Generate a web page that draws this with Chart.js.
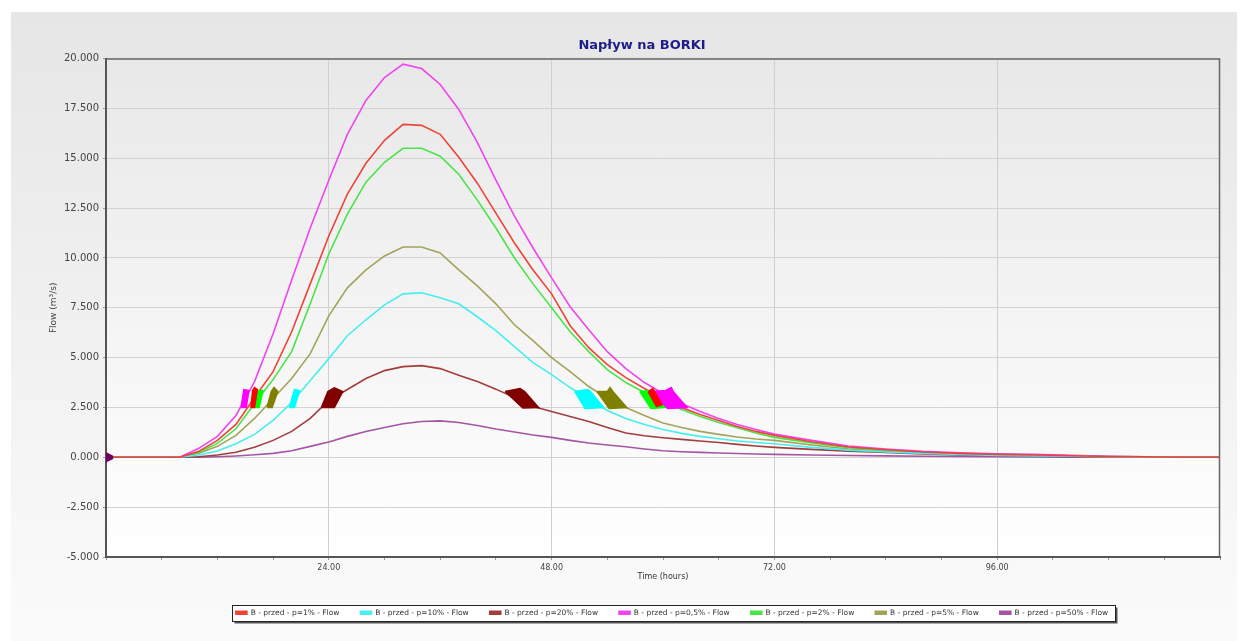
<!DOCTYPE html>
<html>
<head>
<meta charset="utf-8">
<title>Napływ na BORKI</title>
<script src="https://cdn.jsdelivr.net/npm/chart.js@4.4.1/dist/chart.umd.min.js"></script>
<style>
  html, body { margin: 0; padding: 0; background: #ffffff; }
  #contenedor { width: 1247px; height: 641px; }
</style>
</head>
<body>
<div id="contenedor"><canvas id="grafica" width="1247" height="641"></canvas></div>
<script>
// Eje X (horas) y series
const horas = [0, 2, 4, 6, 8, 10, 12, 14, 16, 18, 20, 22, 24, 26, 28, 30, 32, 34, 36, 38, 40, 42, 44, 46, 48, 50, 52, 54, 56, 58, 60, 62, 64, 66, 68, 70, 72, 76, 80, 84, 88, 92, 96, 100, 104, 108, 112, 116, 120];

const serieP1 = [0, 0, 0, 0, 0.01, 0.3, 0.85, 1.65, 3.0, 4.3, 6.3, 8.7, 11.1, 13.2, 14.75, 15.9, 16.7, 16.65, 16.2, 15.05, 13.75, 12.25, 10.75, 9.4, 8.2, 6.6, 5.5, 4.65, 4.0, 3.45, 2.95, 2.5, 2.15, 1.85, 1.55, 1.3, 1.1, 0.78, 0.52, 0.38, 0.27, 0.2, 0.15, 0.12, 0.08, 0.04, 0.02, 0, 0];
const serieP10 = [0, 0, 0, 0, 0, 0.12, 0.32, 0.68, 1.15, 1.85, 2.75, 3.85, 4.95, 6.1, 6.9, 7.65, 8.2, 8.25, 8.0, 7.7, 7.05, 6.35, 5.55, 4.75, 4.15, 3.5, 2.9, 2.35, 1.95, 1.65, 1.4, 1.2, 1.05, 0.93, 0.82, 0.74, 0.68, 0.5, 0.36, 0.27, 0.2, 0.14, 0.1, 0.07, 0.05, 0.03, 0.01, 0, 0];
const serieP20 = [0, 0, 0, 0, 0, 0.03, 0.12, 0.25, 0.5, 0.85, 1.3, 1.95, 2.85, 3.4, 3.95, 4.35, 4.55, 4.6, 4.45, 4.12, 3.8, 3.42, 3.0, 2.55, 2.3, 2.05, 1.8, 1.5, 1.22, 1.08, 0.98, 0.9, 0.82, 0.74, 0.65, 0.57, 0.5, 0.4, 0.31, 0.24, 0.17, 0.12, 0.09, 0.06, 0.04, 0.02, 0.01, 0, 0];
const serieP05 = [0, 0, 0, 0, 0.02, 0.45, 1.05, 2.1, 3.8, 6.2, 8.9, 11.5, 13.9, 16.2, 17.9, 19.05, 19.72, 19.5, 18.7, 17.45, 15.8, 13.9, 12.1, 10.5, 9.0, 7.55, 6.4, 5.3, 4.45, 3.75, 3.2, 2.7, 2.3, 1.95, 1.65, 1.4, 1.17, 0.85, 0.57, 0.42, 0.3, 0.23, 0.18, 0.15, 0.1, 0.05, 0.02, 0, 0];
const serieP2 = [0, 0, 0, 0, 0.01, 0.25, 0.7, 1.43, 2.7, 3.9, 5.3, 7.7, 10.2, 12.2, 13.8, 14.8, 15.5, 15.5, 15.1, 14.2, 12.9, 11.5, 10.0, 8.7, 7.5, 6.3, 5.3, 4.4, 3.75, 3.25, 2.8, 2.4, 2.05, 1.75, 1.48, 1.22, 1.0, 0.72, 0.48, 0.35, 0.25, 0.18, 0.14, 0.1, 0.07, 0.04, 0.02, 0, 0];
const serieP5 = [0, 0, 0, 0, 0.01, 0.2, 0.55, 1.1, 1.95, 2.95, 3.95, 5.2, 7.1, 8.5, 9.4, 10.1, 10.55, 10.55, 10.25, 9.4, 8.6, 7.7, 6.65, 5.85, 5.0, 4.3, 3.55, 2.95, 2.5, 2.1, 1.72, 1.5, 1.3, 1.15, 1.02, 0.92, 0.85, 0.62, 0.42, 0.3, 0.22, 0.16, 0.12, 0.09, 0.06, 0.03, 0.01, 0, 0];
const serieP50 = [0, 0, 0, 0, 0, 0.01, 0.03, 0.07, 0.13, 0.2, 0.33, 0.55, 0.77, 1.05, 1.3, 1.5, 1.68, 1.8, 1.83, 1.75, 1.6, 1.42, 1.27, 1.12, 1.0, 0.85, 0.72, 0.62, 0.53, 0.42, 0.33, 0.28, 0.25, 0.22, 0.19, 0.17, 0.15, 0.12, 0.09, 0.07, 0.05, 0.04, 0.03, 0.02, 0.01, 0, 0, 0, 0];

const nombresSeries = ['B - przed - p=1% - Flow', 'B - przed - p=10% - Flow', 'B - przed - p=20% - Flow', 'B - przed - p=0,5% - Flow', 'B - przed - p=2% - Flow', 'B - przed - p=5% - Flow', 'B - przed - p=50% - Flow'];
const series = [serieP1, serieP10, serieP20, serieP05, serieP2, serieP5, serieP50];
const coloresLinea = ['#ee4438', '#48eeee', '#a33c3c', '#f044f0', '#48e448', '#a3a35a', '#a456a4'];
const coloresMancha = ['#ff0000', '#00ffff', '#800000', '#ff00ff', '#00ff00', '#808000', '#700060'];

// Manchas (zonas densas) alrededor de 2.5-3.3, vértices [hora, caudal]
const manchasP1 = [
    [[15.6, 2.5], [16.0, 2.5], [16.3, 3.4], [16.0, 3.5], [15.8, 3.35], [15.6, 2.5]],
    [[58.4, 3.3], [58.9, 3.45], [59.9, 2.65], [59.3, 2.55], [58.4, 3.3]]
];
const manchasP10 = [
    [[19.75, 2.5], [20.3, 2.5], [20.85, 3.35], [20.3, 3.4], [19.75, 2.5]],
    [[50.5, 3.3], [51.9, 3.4], [52.2, 3.3], [53.6, 2.5], [51.6, 2.45], [50.5, 3.3]]
];
const manchasP20 = [
    [[23.2, 2.5], [24.6, 2.5], [25.5, 3.3], [24.6, 3.48], [23.9, 3.3], [23.2, 2.5]],
    [[43.0, 3.3], [44.6, 3.45], [45.1, 3.3], [46.6, 2.5], [44.9, 2.47], [43.0, 3.3]]
];
const manchasP05 = [
    [[14.55, 2.5], [15.1, 2.5], [15.4, 3.35], [14.85, 3.4], [14.55, 2.5]],
    [[58.8, 3.3], [60.3, 3.35], [60.9, 3.5], [61.1, 3.3], [62.6, 2.5], [60.5, 2.45], [58.8, 3.3]]
];
const manchasP2 = [
    [[15.95, 2.5], [16.5, 2.5], [16.9, 3.35], [16.3, 3.35], [15.95, 2.5]],
    [[57.5, 3.3], [58.5, 3.35], [60.3, 2.5], [58.7, 2.45], [57.5, 3.3]]
];
const manchasP5 = [
    [[17.35, 2.5], [17.9, 2.5], [18.5, 3.3], [18.1, 3.5], [17.8, 3.3], [17.35, 2.5]],
    [[52.9, 3.3], [54.0, 3.3], [54.3, 3.5], [54.6, 3.3], [56.1, 2.5], [54.2, 2.45], [52.9, 3.3]]
];
const manchasP50 = [
    [[0, 0.22], [0.7, 0.06], [0.7, -0.06], [0, -0.22], [0, 0.22]]
];
const manchas = [manchasP1, manchasP10, manchasP20, manchasP05, manchasP2, manchasP5, manchasP50];

const ticksY = { min: -5, max: 20, paso: 2.5 };
const ticksX = { min: 0, max: 120, paso: 6, etiqueta: 24 };

Chart.defaults.font.family = "'DejaVu Sans', Verdana, sans-serif";

let datasets = [];
series.forEach((valores, i) => {
    datasets.push({
        label: nombresSeries[i],
        data: horas.map((h, k) => ({ x: h, y: valores[k] })),
        borderColor: coloresLinea[i],
        backgroundColor: coloresLinea[i],
        borderWidth: 1.6,
        pointRadius: 0,
        fill: false,
        tension: 0
    });
});
manchas.forEach((lista, i) => {
    lista.forEach((poligono) => {
        datasets.push({
            label: '',
            esMancha: true,
            data: poligono.map((p) => ({ x: p[0], y: p[1] })),
            borderColor: coloresMancha[i],
            backgroundColor: coloresMancha[i],
            borderWidth: 1.5,
            pointRadius: 0,
            fill: 'shape',
            tension: 0,
            order: -1
        });
    });
});

// fondo del panel, del área de trazado y caja de la leyenda
const fondoPanel = {
    id: 'fondoPanel',
    afterLayout(chart) {
        chart.legend.left += 40;
        chart.legend.right += 40;
        chart.titleBlock.left += 10;
        chart.titleBlock.right += 10;
    },
    beforeDraw(chart) {
        const ctx = chart.ctx;
        const a = chart.chartArea;
        ctx.save();
        let g = ctx.createLinearGradient(0, 12, 0, 641);
        g.addColorStop(0, '#e6e6e6');
        g.addColorStop(1, '#fbfbfb');
        ctx.fillStyle = g;
        ctx.fillRect(11, 12, 1226, 629);

        g = ctx.createLinearGradient(0, a.top, 0, a.bottom);
        g.addColorStop(0, '#e8e8e8');
        g.addColorStop(1, '#ffffff');
        ctx.fillStyle = g;
        ctx.fillRect(a.left, a.top, a.right - a.left, a.bottom - a.top);

        const cajas = chart.legend.legendHitBoxes;
        if (cajas && cajas.length) {
            const primera = cajas[0];
            const ultima = cajas[cajas.length - 1];
            const x0 = Math.round(primera.left - 4) + 0.5;
            const x1 = Math.round(ultima.left + ultima.width + 7) + 0.5;
            const y0 = Math.round(primera.top - 4) + 0.5;
            const y1 = Math.round(primera.top + primera.height + 4) + 0.5;
            ctx.fillStyle = '#555555';
            ctx.fillRect(x0 + 2, y0 + 2, x1 - x0, y1 - y0);
            ctx.fillStyle = '#ffffff';
            ctx.fillRect(x0, y0, x1 - x0, y1 - y0);
            ctx.strokeStyle = '#222222';
            ctx.lineWidth = 1;
            ctx.strokeRect(x0, y0, x1 - x0, y1 - y0);
        }
        ctx.restore();
    },
    afterDraw(chart) {
        const ctx = chart.ctx;
        const a = chart.chartArea;
        ctx.save();
        ctx.strokeStyle = '#666666';
        ctx.lineWidth = 1.5;
        ctx.beginPath();
        ctx.moveTo(a.left, a.top + 0.5);
        ctx.lineTo(a.right - 0.5, a.top + 0.5);
        ctx.lineTo(a.right - 0.5, a.bottom);
        ctx.stroke();
        ctx.restore();
    }
};

const grafica = new Chart(document.getElementById('grafica'), {
    type: 'line',
    data: { datasets: datasets },
    plugins: [fondoPanel],
    options: {
        responsive: false,
        animation: false,
        events: [],
        layout: { padding: { left: 44, right: 27, top: 0, bottom: 14.5 } },
        plugins: {
            title: {
                display: true,
                text: 'Napływ na BORKI',
                color: '#1d1d88',
                font: { size: 13, weight: 'bold' },
                padding: { top: 38, bottom: 5 }
            },
            legend: {
                position: 'bottom',
                labels: {
                    boxWidth: 11,
                    boxHeight: 3,
                    padding: 21,
                    color: '#333333',
                    font: { size: 7.5 },
                    filter: (item, data) => !data.datasets[item.datasetIndex].esMancha
                }
            },
            tooltip: { enabled: false }
        },
        scales: {
            x: {
                type: 'linear',
                min: ticksX.min,
                max: ticksX.max,
                afterFit: (escala) => { escala.height = 31; },
                border: { color: '#555555', width: 2 },
                grid: {
                    color: (c) => (c.tick && c.tick.value % ticksX.etiqueta === 0 && c.tick.value > ticksX.min && c.tick.value < ticksX.max) ? '#cfcfcf' : 'rgba(0,0,0,0)',
                    tickColor: '#9a9a9a',
                    tickLength: 3,
                    lineWidth: 1
                },
                ticks: {
                    stepSize: ticksX.paso,
                    autoSkip: false,
                    maxRotation: 0,
                    padding: 3,
                    color: '#444444',
                    font: { size: 8 },
                    callback: (v) => (v % ticksX.etiqueta === 0 && v > ticksX.min && v < ticksX.max) ? v.toFixed(2) : ''
                },
                title: {
                    display: true,
                    text: 'Time (hours)',
                    color: '#333333',
                    font: { size: 8 },
                    padding: { top: 0, bottom: 6.5 }
                }
            },
            y: {
                min: ticksY.min,
                max: ticksY.max,
                afterFit: (escala) => { escala.width = 62; },
                border: { color: '#555555', width: 2 },
                grid: {
                    color: '#d2d2d2',
                    tickColor: '#9a9a9a',
                    tickLength: 3,
                    lineWidth: 1
                },
                ticks: {
                    stepSize: ticksY.paso,
                    padding: 4,
                    color: '#444444',
                    font: { size: 10 },
                    callback: (v) => v.toFixed(3)
                },
                title: {
                    display: true,
                    text: 'Flow (m³/s)',
                    color: '#444444',
                    font: { size: 9 },
                    padding: { top: 4, bottom: 0 }
                }
            }
        }
    }
});
</script>
</body>
</html>
